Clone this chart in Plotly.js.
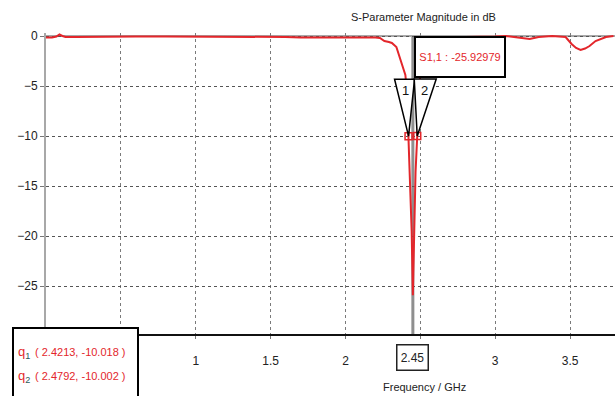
<!DOCTYPE html>
<html>
<head>
<meta charset="utf-8">
<script src="https://cdn.plot.ly/plotly-3.0.1.min.js"></script>
<style>html,body{margin:0;padding:0;background:#fff;}#chart{width:615px;height:396px;}</style>
</head>
<body>
<div id="chart"></div>
<script>
// ---- data ----
const freqGHz = [0, 0.04, 0.07, 0.09, 0.11, 0.13, 0.2, 0.4, 0.6, 0.8, 1.0, 1.2, 1.4, 1.6, 1.7, 1.8, 1.9, 1.95, 2.0, 2.1, 2.2, 2.23, 2.26, 2.29, 2.31, 2.34, 2.36, 2.38, 2.40, 2.41, 2.4213, 2.432, 2.442, 2.447, 2.45, 2.453, 2.458, 2.468, 2.4792, 2.49, 2.50, 2.52, 2.55, 2.6, 2.7, 2.8, 2.9, 3.0, 3.07, 3.14, 3.23, 3.29, 3.38, 3.47, 3.51, 3.54, 3.57, 3.60, 3.63, 3.67, 3.71, 3.74, 3.79];
const s11dB   = [-0.15, -0.15, -0.05, 0.15, 0.0, -0.1, -0.1, -0.05, -0.05, -0.05, -0.05, -0.05, -0.05, -0.1, -0.15, -0.15, -0.1, -0.15, -0.1, -0.1, -0.15, -0.2, -0.5, -0.6, -0.7, -1.1, -2.1, -3.1, -3.9, -5.5, -10.018, -14.2, -19.5, -23.5, -25.92979, -23.8, -19.0, -13.6, -10.002, -6.2, -3.6, -2.0, -1.0, -0.4, -0.2, -0.1, -0.1, -0.05, 0.0, -0.1, -0.3, -0.1, 0.0, -0.1, -0.8, -1.2, -1.4, -1.25, -1.0, -0.5, -0.25, -0.1, 0.0];

const markerNames = ['1', '2'];
const markerFreq  = [2.4213, 2.4792];
const markerDb    = [-10.018, -10.002];

const minFreq = 2.45;
const minDb   = -25.92979;
const minName = 'S1,1';

const yTickVals = [0, -5, -10, -15, -20, -25];
const xTickVals = [0.5, 1, 1.5, 2, 2.5, 3, 3.5];
const xTickText = ['', '1', '1.5', '2', '', '3', '3.5'];

const chartTitle = 'S-Parameter Magnitude in dB';
const xTitle = 'Frequency / GHz';

// ---- layout helpers (pixel -> paper) ----
const L = 46, T = 33, W = 569, H = 301;
const px = x => (x - L) / W;
const py = y => (T + H - y) / H;

const FONT = '"Liberation Sans", Arial, sans-serif';
const RED = '#e3262b';

const traces = [
  {
    x: freqGHz, y: s11dB, type: 'scatter', mode: 'lines',
    line: {color: RED, width: 2}, hoverinfo: 'skip'
  },
  {
    x: markerFreq, y: markerDb, type: 'scatter', mode: 'markers',
    marker: {symbol: 'square-open', size: 7, color: RED, line: {width: 1.5}},
    cliponaxis: false, hoverinfo: 'skip'
  }
];

const shapes = [
  // marker line at the minimum
  {type: 'line', xref: 'x', yref: 'paper', x0: minFreq, x1: minFreq, y0: 0, y1: py(36),
   line: {color: '#8f8f8f', width: 3}, layer: 'below'},
  // top gray line
  {type: 'line', xref: 'paper', yref: 'y', x0: 0, x1: 1, y0: 0, y1: 0,
   line: {color: '#a8a8a8', width: 2}, layer: 'below'},
  // legend box bottom-left
  {type: 'rect', xref: 'paper', yref: 'paper', x0: px(13), x1: px(138), y0: py(400), y1: py(328),
   fillcolor: '#ffffff', line: {color: '#000', width: 2}, layer: 'above'}
];

// inverted triangle markers
const triOff = [[-14, 6], [-3, 19]];
markerFreq.forEach((f, i) => {
  shapes.push({
    type: 'path', xref: 'x', yref: 'y', xsizemode: 'pixel', ysizemode: 'pixel',
    xanchor: f, yanchor: markerDb[i],
    path: `M0,0 L${triOff[i][0]},57 L${triOff[i][1]},57 Z`,
    fillcolor: '#ffffff', line: {color: '#000', width: 1.5}, layer: 'above'
  });
});

const annotations = [
  {text: chartTitle, xref: 'paper', yref: 'paper', x: px(423), y: py(17), xanchor: 'center', yanchor: 'middle',
   showarrow: false, font: {family: FONT, size: 11, color: '#222'}},
  {text: xTitle, xref: 'paper', yref: 'paper', x: px(424), y: py(387), xanchor: 'center', yanchor: 'middle',
   showarrow: false, font: {family: FONT, size: 11, color: '#222'}},
  // min value box
  {text: `${minName} : ${minDb}`, xref: 'x', yref: 'y', x: minFreq, y: 0, xanchor: 'left', yanchor: 'top',
   showarrow: false, bgcolor: '#fff', bordercolor: '#000', borderwidth: 2, borderpad: 1,
   width: 86, height: 36, xshift: 1, font: {family: FONT, size: 11, color: RED}},
  // boxed tick label at min frequency
  {text: String(minFreq), xref: 'x', yref: 'paper', x: minFreq, y: py(357), xanchor: 'center', yanchor: 'middle',
   showarrow: false, bgcolor: '#fff', bordercolor: '#222', borderwidth: 1.5, borderpad: 1, width: 28, height: 22,
   font: {family: FONT, size: 12, color: '#222'}}
];

markerFreq.forEach((f, i) => {
  annotations.push({
    text: markerNames[i], xref: 'x', yref: 'y', x: f, y: markerDb[i], showarrow: false,
    xshift: i === 0 ? -3 : 7, yshift: 46, font: {family: FONT, size: 13, color: '#111'}
  });
  const yp = [352, 376][i];
  annotations.push({
    text: `<span style="color:${RED}">q</span><sub>${markerNames[i]}</sub>`,
    xref: 'paper', yref: 'paper', x: px(16), y: py(yp), xanchor: 'left', yanchor: 'middle', showarrow: false,
    font: {family: FONT, size: 13, color: '#2a5a5a'}
  });
  annotations.push({
    text: `( ${markerFreq[i]}, ${markerDb[i].toFixed(3)} )`,
    xref: 'paper', yref: 'paper', x: px(33), y: py(yp), xanchor: 'left', yanchor: 'middle', showarrow: false,
    font: {family: FONT, size: 11, color: RED}
  });
});

const layout = {
  width: 615, height: 396,
  margin: {l: L, r: 0, t: T, b: 396 - T - H},
  paper_bgcolor: '#fff', plot_bgcolor: '#fff',
  showlegend: false,
  xaxis: {
    range: [0, 3.8], tickvals: xTickVals, ticktext: xTickText,
    showgrid: true, gridcolor: '#7a7a7a', griddash: 'dot', gridwidth: 1,
    showline: true, linecolor: '#111', linewidth: 1.5,
    ticks: 'outside', ticklen: 3, tickcolor: '#777', ticklabelstandoff: 12,
    zeroline: false, tickfont: {family: FONT, size: 12, color: '#222'}
  },
  yaxis: {
    range: [-29.8, 0.3], tickvals: yTickVals,
    showgrid: true, gridcolor: '#555', griddash: 'dot', gridwidth: 1,
    showline: true, linecolor: '#a8a8a8', linewidth: 2,
    ticks: 'outside', ticklen: 4, tickcolor: '#777',
    zeroline: false, tickfont: {family: FONT, size: 12, color: '#222'}
  },
  shapes: shapes,
  annotations: annotations
};

Plotly.newPlot('chart', traces, layout, {staticPlot: true, displayModeBar: false});
</script>
</body>
</html>
